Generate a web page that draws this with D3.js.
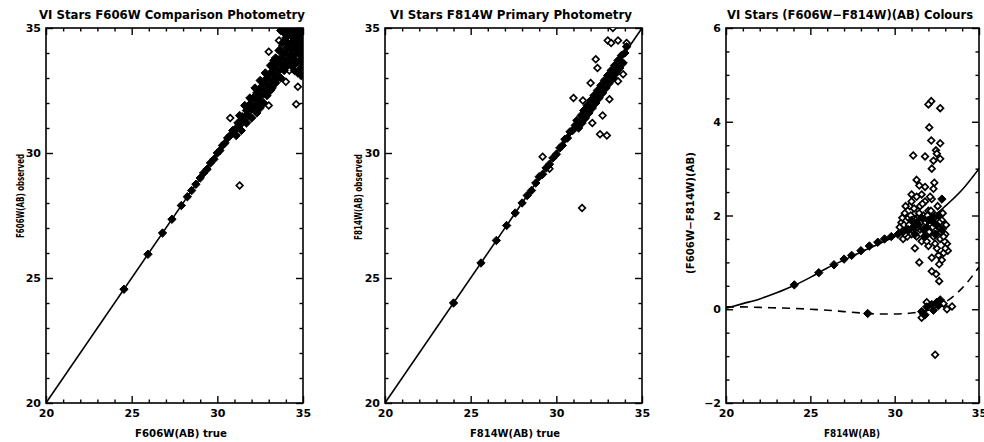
<!DOCTYPE html>
<html>
<head>
<meta charset="utf-8">
<script src="https://cdn.jsdelivr.net/npm/d3@7"></script>
<style>
  body { margin: 0; background: #fff; }
  svg { display: block; }
  text { font-family: "DejaVu Sans", sans-serif; font-weight: bold; fill: #000; }
</style>
</head>
<body>
<svg id="chart" width="984" height="442"></svg>
<script>
// --- data: [true magnitude, observed magnitude] ---
const f606Matched = [
  [24.55,24.55],[25.95,25.95],[26.8,26.8],[27.35,27.35],[27.9,27.9],[28.25,28.25],[28.5,28.5],
  [28.75,28.75],[29.0,29.0],[29.2,29.2],[29.4,29.35],[29.6,29.6],[29.8,29.75],[30.0,30.0],
  [30.15,30.1],[30.3,30.3],[30.45,30.4],[30.6,30.6],[30.75,30.7],[30.9,30.9],[31.05,30.95],
  [31.2,31.2],[31.3,31.1],[31.45,31.45],[31.55,31.3],[31.7,31.7],[31.8,31.5],[31.9,31.95],
  [32.0,31.75],[32.1,32.2],[32.2,31.9],[32.3,32.4],[32.4,32.1],[32.5,32.6],[32.6,32.3],
  [32.7,32.8],[32.8,32.5],[32.9,33.0],[33.0,32.7],[33.1,33.2],[33.2,32.9],[33.3,33.4],
  [33.4,33.1],[33.5,33.6],[33.6,33.3],[33.7,33.8],[33.8,33.5],[33.9,34.0],[34.0,33.7],
  [34.1,34.2],[34.2,33.9],[34.3,34.4],[34.4,34.1],[34.5,34.6],[34.6,34.3],[34.7,34.8],
  [34.8,34.5],[34.9,35.0],[35.0,34.7],[34.5,35.0],[34.7,35.2],[35.0,35.2],[34.8,34.0],
  [35.0,33.9],[34.6,33.6],[34.9,33.4],[35.0,34.3],[34.3,34.9],[34.0,34.6],[33.8,34.4],
  [33.6,34.1],[33.4,33.8],[34.2,35.0],[33.9,34.8],[34.4,33.5],[34.7,34.0],[34.9,34.6],
  [33.7,34.9],[33.9,35.1],[34.1,34.9],[34.3,35.1],[34.5,34.4],[34.6,35.1],[34.8,34.9],
  [34.9,34.2],[35.0,35.0],[34.1,34.4],[34.3,34.7],[34.5,34.8],[34.7,34.4],[34.9,34.8],
  [34.2,33.6],[34.4,33.8],[34.6,34.0],[34.8,33.7],[35.0,33.6],[34.5,33.3],[34.9,33.1],
  [35.0,34.5],[34.7,33.2],[33.9,33.3],[34.1,33.5],[33.5,33.0],[33.7,33.0],[33.2,32.6],
  [33.4,32.8],[32.9,32.3],[33.1,32.5],[32.7,32.0],[32.5,31.8],[32.3,31.6],[32.0,31.4],
  [31.7,31.2],[31.4,30.9],[31.1,30.7],[32.8,33.2],[32.5,32.9],[32.2,32.6],[31.9,32.2],
  [31.6,31.9],[31.3,31.5],[33.3,33.7],[33.1,33.5]
];
const f606Outliers = [
  [30.75,31.4],[31.15,31.0],[32.4,32.05],[33.0,31.9],[34.0,32.85],[34.6,31.95],[34.7,32.65],
  [34.2,33.3],[34.65,33.4],[33.6,34.5],[33.8,34.3],[33.0,34.05],[31.3,28.7]
];

const f814Matched = [
  [24.0,24.0],[25.6,25.6],[26.5,26.5],[27.1,27.1],[27.6,27.6],[28.0,28.0],[28.3,28.3],
  [28.55,28.5],[28.8,28.8],[29.0,29.05],[29.2,29.15],[29.4,29.4],[29.6,29.55],[29.8,29.8],
  [30.0,29.95],[30.2,30.2],[30.35,30.3],[30.5,30.55],[30.65,30.6],[30.8,30.85],[30.95,30.9],
  [31.1,31.1],[31.2,31.3],[31.3,31.0],[31.45,31.5],[31.5,31.2],[31.6,31.7],[31.7,31.4],
  [31.8,31.9],[31.9,31.6],[32.0,32.1],[32.1,31.8],[32.2,32.3],[32.3,32.0],[32.4,32.5],
  [32.5,32.2],[32.6,32.7],[32.7,32.4],[32.8,32.9],[32.9,32.6],[33.0,33.1],[33.1,32.8],
  [33.2,33.3],[33.3,33.0],[33.4,33.5],[33.5,33.2],[33.6,33.7],[33.7,33.4],[33.8,33.9],
  [33.9,33.6],[34.0,34.0],[34.1,34.25]
];
const f814Outliers = [
  [33.3,35.0],[33.0,34.5],[33.2,34.4],[33.6,34.5],[34.1,34.4],[32.3,33.75],[32.4,33.4],
  [33.9,33.15],[33.6,32.87],[32.0,32.8],[31.0,32.2],[31.55,32.1],[33.1,32.15],[32.7,31.5],
  [32.1,31.2],[32.55,30.75],[32.95,30.7],[29.2,29.85],[29.6,29.37],[31.5,27.8]
];

// --- colour panel: [F814W(AB), (F606W-F814W)(AB)] ---
const colourMatched = [
  [24.05,0.52],[25.5,0.78],[26.4,0.95],[27.0,1.07],[27.45,1.15],[28.0,1.25],[28.5,1.35],
  [29.0,1.43],[29.4,1.5],[29.8,1.55],[30.2,1.6],[30.5,1.65],[30.8,1.7],[31.1,1.75],
  [31.4,1.8],[31.7,1.7],[32.0,1.9],[32.3,1.85],[32.6,2.0],[32.8,2.35],[28.4,-0.09],
  [31.6,-0.05],[31.9,0.05],[32.2,0.1],[32.5,0.15],[32.7,0.2],[32.3,-0.02],[31.8,-0.12],[32.6,0.08],
  [31.0,1.9],[31.3,1.85],[31.6,1.95],[31.9,1.75],[32.2,1.95],[32.5,1.8],[32.8,1.7],
  [31.2,1.6],[31.8,1.55],[32.4,1.6]
];
const colourOutliers = [
  [30.4,1.85],[30.6,2.05],[30.7,1.7],[30.8,1.95],[30.9,2.2],[31.0,1.6],[31.0,2.3],[31.1,1.85],
  [31.2,2.05],[31.3,1.55],[31.3,2.4],[31.4,1.95],[31.5,2.2],[31.5,1.7],[31.6,1.45],[31.7,2.0],
  [31.8,2.3],[31.9,1.6],[32.0,2.1],[32.0,1.35],[32.1,1.8],[32.2,2.35],[32.3,1.55],[32.4,2.0],
  [32.5,1.3],[32.6,1.75],[32.7,1.5],[32.8,1.9],[32.9,1.2],[33.0,1.6],[33.1,1.4],[32.8,1.05],
  [31.2,1.3],[30.5,1.5],[32.2,1.1],
  [30.3,1.75],[30.45,1.95],[30.55,1.8],[30.65,2.2],[30.75,1.55],[30.85,1.8],[30.95,2.0],
  [31.05,1.7],[31.15,2.15],[31.25,1.9],[31.35,1.75],[31.45,2.05],[31.55,1.85],[31.65,2.25],
  [31.75,1.55],[31.85,1.85],[31.95,2.0],[32.05,1.65],[32.15,2.1],[32.25,1.75],[32.35,1.95],
  [32.45,1.6],[32.55,2.2],[32.65,1.85],[32.75,1.65],[32.85,2.05],[32.95,1.45],[33.05,1.8],
  [33.15,1.25],[32.9,1.55],[31.0,2.45],[31.6,2.45],[32.1,2.4],[30.6,1.6],[31.9,1.45],
  [32.4,1.4],[32.6,1.15],[33.0,1.3],
  [32.17,4.44],[32.0,4.37],[32.7,4.29],[32.05,3.88],[32.17,3.6],[32.7,3.54],[32.45,3.39],
  [32.5,3.32],[31.1,3.28],[31.8,3.26],[32.7,3.21],[32.3,3.17],[32.2,3.0],[31.3,2.76],
  [31.46,2.64],[31.8,2.61],[32.35,2.7],[32.3,2.57],
  [31.46,1.0],[32.64,0.96],[32.2,0.81],[32.46,0.75],[32.64,0.6],[33.1,0.0],[33.4,0.06],
  [31.6,-0.18],[32.4,-0.97],[31.9,0.15],[32.9,0.12],[31.7,-0.1]
];

// model colour tracks
const trackMag = [20,21,22,23,24,25,26,27,28,29,30,31,32,33,34,35];
const trackStar = [0.02,0.12,0.22,0.35,0.5,0.68,0.88,1.05,1.22,1.38,1.55,1.72,1.9,2.2,2.55,3.0];
const trackFlat = [0.05,0.05,0.04,0.03,0.02,0.0,-0.02,-0.05,-0.08,-0.1,-0.1,-0.08,-0.02,0.15,0.45,0.9];

const magTicks = [20, 25, 30, 35];
const colourTicks = [-2, 0, 2, 4, 6];

// --- layout ---
const svg = d3.select("#chart");
const plotTop = 28, plotBottom = 403;

const panels = [
  { key: "p1", left: 46, right: 303, yDomain: [20, 35], yTicks: magTicks, yMinor: 1,
    title: "VI Stars F606W Comparison Photometry", titleX: 172, titleW: 266,
    xLabel: "F606W(AB) true", xLabelX: 181, xLabelW: 92,
    yLabel: "F606W(AB) observed", yLabelX: 20, yLabelY: 196, yLabelW: 84,
    matched: f606Matched, outliers: f606Outliers, diagonal: true },
  { key: "p2", left: 385, right: 642, yDomain: [20, 35], yTicks: magTicks, yMinor: 1,
    title: "VI Stars F814W Primary Photometry", titleX: 511, titleW: 242,
    xLabel: "F814W(AB) true", xLabelX: 515, xLabelW: 90,
    yLabel: "F814W(AB) observed", yLabelX: 358, yLabelY: 197, yLabelW: 86,
    matched: f814Matched, outliers: f814Outliers, diagonal: true },
  { key: "p3", left: 726, right: 979, yDomain: [-2, 6], yTicks: colourTicks, yMinor: 0.5,
    title: "VI Stars (F606W\u2212F814W)(AB) Colours", titleX: 850, titleW: 246,
    xLabel: "F814W(AB)", xLabelX: 852, xLabelW: 56,
    yLabel: "(F606W\u2212F814W)(AB)", yLabelX: 690, yLabelY: 213, yLabelW: 122,
    matched: colourMatched, outliers: colourOutliers, diagonal: false }
];

const diamond = r => `M0,${-r}L${r},0L0,${r}L${-r},0Z`;

panels.forEach(p => {
  const x = d3.scaleLinear().domain([20, 35]).range([p.left, p.right]);
  const y = d3.scaleLinear().domain(p.yDomain).range([plotBottom, plotTop]);
  const g = svg.append("g").attr("class", p.key);

  const xMinor = d3.range(20, 35.001, 1).filter(v => !magTicks.includes(v));
  const yMinor = d3.range(p.yDomain[0], p.yDomain[1] + 0.001, p.yMinor).filter(v => !p.yTicks.includes(v));

  const styleAxis = sel => {
    sel.select(".domain").remove();
    sel.selectAll("line").attr("stroke", "#000").attr("stroke-width", 1.4);
    sel.selectAll("text").attr("font-size", 11).attr("font-family", null);
  };

  // ticks on all four sides, pointing inwards
  g.append("g").attr("transform", `translate(0,${plotBottom})`)
    .call(d3.axisBottom(x).tickValues(magTicks).tickSize(-7).tickPadding(6).tickFormat(d3.format("d")))
    .call(styleAxis);
  g.append("g").attr("transform", `translate(0,${plotBottom})`)
    .call(d3.axisBottom(x).tickValues(xMinor).tickSize(-3.5).tickFormat(""))
    .call(styleAxis);
  g.append("g").attr("transform", `translate(0,${plotTop})`)
    .call(d3.axisTop(x).tickValues(magTicks).tickSize(-7).tickFormat(""))
    .call(styleAxis);
  g.append("g").attr("transform", `translate(0,${plotTop})`)
    .call(d3.axisTop(x).tickValues(xMinor).tickSize(-3.5).tickFormat(""))
    .call(styleAxis);
  g.append("g").attr("transform", `translate(${p.left},0)`)
    .call(d3.axisLeft(y).tickValues(p.yTicks).tickSize(-7).tickPadding(5).tickFormat(d3.format("d")))
    .call(styleAxis);
  g.append("g").attr("transform", `translate(${p.left},0)`)
    .call(d3.axisLeft(y).tickValues(yMinor).tickSize(-3.5).tickFormat(""))
    .call(styleAxis);
  g.append("g").attr("transform", `translate(${p.right},0)`)
    .call(d3.axisRight(y).tickValues(p.yTicks).tickSize(-7).tickFormat(""))
    .call(styleAxis);
  g.append("g").attr("transform", `translate(${p.right},0)`)
    .call(d3.axisRight(y).tickValues(yMinor).tickSize(-3.5).tickFormat(""))
    .call(styleAxis);

  g.append("rect")
    .attr("x", p.left).attr("y", plotTop)
    .attr("width", p.right - p.left).attr("height", plotBottom - plotTop)
    .attr("fill", "none").attr("stroke", "#000").attr("stroke-width", 1.6);

  // clip for the data
  svg.append("defs").append("clipPath").attr("id", `clip-${p.key}`)
    .append("rect").attr("x", p.left).attr("y", plotTop)
    .attr("width", p.right - p.left).attr("height", plotBottom - plotTop);
  const plot = g.append("g").attr("clip-path", `url(#clip-${p.key})`);

  if (p.diagonal) {
    plot.append("path")
      .datum(magTicks.filter(v => v === 20 || v === 35))
      .attr("d", d3.line().x(d => x(d)).y(d => y(d)))
      .attr("fill", "none").attr("stroke", "#000").attr("stroke-width", 1.6);
  } else {
    const track = vals => d3.line().curve(d3.curveMonotoneX)
      .x((d, i) => x(trackMag[i])).y(d => y(d))(vals);
    plot.append("path").attr("d", track(trackStar))
      .attr("fill", "none").attr("stroke", "#000").attr("stroke-width", 1.6);
    plot.append("path").attr("d", track(trackFlat))
      .attr("fill", "none").attr("stroke", "#000").attr("stroke-width", 1.6)
      .attr("stroke-dasharray", "8,6");
  }

  // open diamonds first, matched (filled) stars on top
  plot.selectAll(".outlier").data(p.outliers).join("path")
    .attr("class", "outlier")
    .attr("transform", d => `translate(${x(d[0])},${y(d[1])})`)
    .attr("d", diamond(3.3))
    .attr("fill", "#fff").attr("stroke", "#000").attr("stroke-width", 1.7);

  plot.selectAll(".matched").data(p.matched).join("path")
    .attr("class", "matched")
    .attr("transform", d => `translate(${x(d[0])},${y(d[1])})`)
    .attr("d", diamond(4.2))
    .attr("fill", "#000").attr("stroke", "#000").attr("stroke-width", 1);

  // titles and axis labels
  g.append("text")
    .attr("x", p.titleX).attr("y", 19)
    .attr("text-anchor", "middle").attr("font-size", 12)
    .attr("textLength", p.titleW).attr("lengthAdjust", "spacingAndGlyphs")
    .text(p.title);
  g.append("text")
    .attr("x", p.xLabelX).attr("y", 437)
    .attr("text-anchor", "middle").attr("font-size", 10)
    .attr("textLength", p.xLabelW).attr("lengthAdjust", "spacingAndGlyphs")
    .text(p.xLabel);
  g.append("text")
    .attr("transform", `translate(${p.yLabelX},${p.yLabelY}) rotate(-90)`)
    .attr("text-anchor", "middle").attr("dy", "0.35em").attr("font-size", 10)
    .attr("textLength", p.yLabelW).attr("lengthAdjust", "spacingAndGlyphs")
    .text(p.yLabel);
});
</script>
</body>
</html>
